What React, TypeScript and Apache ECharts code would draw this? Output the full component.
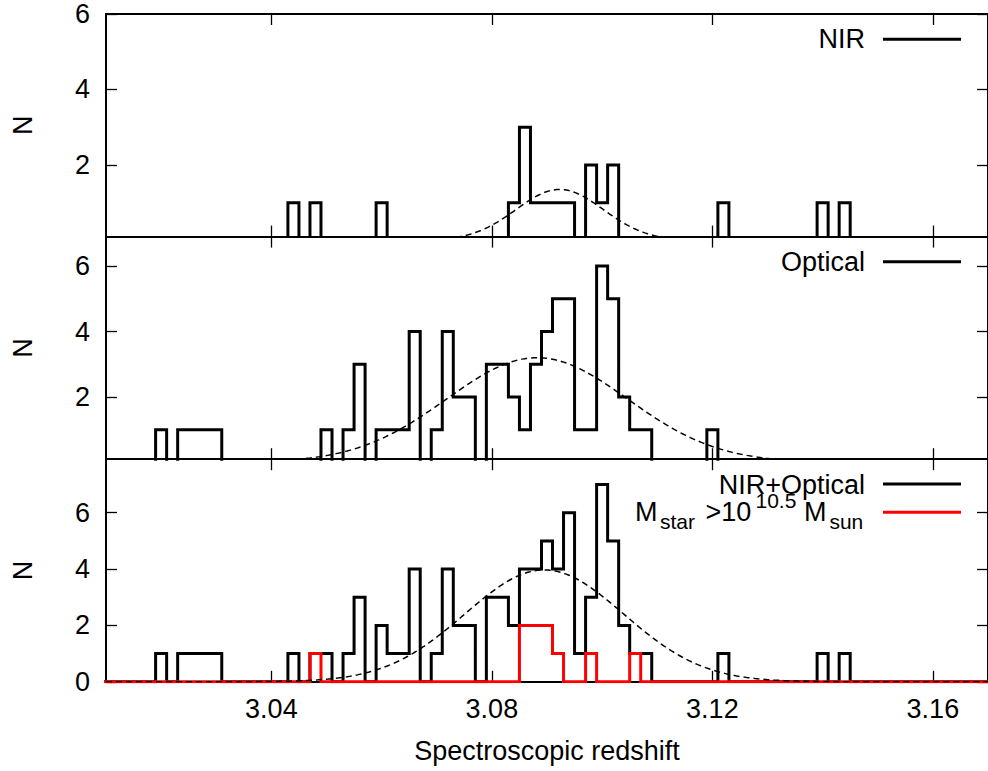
import React, { useEffect, useRef } from "react";
import * as echarts from "echarts";

// Histogram bins are 0.002 wide, centred on even thousandths of redshift.
const Z_MIN = 3.01;
const Z_MAX = 3.17;
const X_TICKS = [3.04, 3.08, 3.12, 3.16];
const Y_TICKS_UPPER = [2, 4, 6];
const Y_TICKS_LOWER = [0, 2, 4, 6];

// NIR sample: bin centre -> count
const NIR_Z = [3.044, 3.048, 3.060, 3.084, 3.086, 3.088, 3.090, 3.092, 3.094, 3.098, 3.100, 3.102, 3.122, 3.140, 3.144];
const NIR_N = [1, 1, 1, 1, 3, 1, 1, 1, 1, 2, 1, 2, 1, 1, 1];

// Optical sample
const OPT_Z = [3.020, 3.024, 3.026, 3.028, 3.030, 3.050, 3.054, 3.056, 3.060, 3.062, 3.064, 3.066, 3.070, 3.072, 3.074, 3.076,
  3.080, 3.082, 3.084, 3.086, 3.088, 3.090, 3.092, 3.094, 3.096, 3.098, 3.100, 3.102, 3.104, 3.106, 3.108, 3.120];
const OPT_N = [1, 1, 1, 1, 1, 1, 1, 3, 1, 1, 1, 4, 1, 4, 2, 2,
  3, 3, 2, 1, 3, 4, 5, 5, 1, 1, 6, 5, 2, 1, 1, 1];

// Combined NIR+Optical sample
const ALL_Z = [3.020, 3.024, 3.026, 3.028, 3.030, 3.044, 3.048, 3.050, 3.054, 3.056, 3.060, 3.062, 3.064, 3.066, 3.070, 3.072,
  3.074, 3.076, 3.080, 3.082, 3.084, 3.086, 3.088, 3.090, 3.092, 3.094, 3.096, 3.098, 3.100, 3.102, 3.104, 3.106, 3.108,
  3.122, 3.140, 3.144];
const ALL_N = [1, 1, 1, 1, 1, 1, 1, 1, 1, 3, 2, 1, 1, 4, 1, 4,
  2, 2, 3, 3, 2, 4, 4, 5, 4, 6, 1, 3, 7, 5, 2, 1, 1,
  1, 1, 1];

// Massive galaxies, M_star > 10^10.5 M_sun
const MASSIVE_Z = [3.048, 3.086, 3.088, 3.090, 3.092, 3.098, 3.106];
const MASSIVE_N = [1, 2, 2, 2, 1, 1, 1];

// Gaussian fits: [amplitude, mean, sigma]
const NIR_FIT = [1.35, 3.0923, 0.0079];
const OPT_FIT = [3.2, 3.0882, 0.0164];
const ALL_FIT = [3.97, 3.0895, 0.0144];

const FONT = '"Liberation Sans", Arial, Helvetica, sans-serif';
const BLACK = "#000000";
const RED = "#ff0000";

function histogramOutline(z: number[], n: number[]): number[][] {
  const counts = new Map<number, number>();
  z.forEach((v, i) => counts.set(Math.round(v * 1000), n[i]));
  const pts: number[][] = [];
  for (let c = 3008; c <= 3172; c += 2) {
    const cnt = counts.get(c) ?? 0;
    pts.push([(c - 1) / 1000, cnt]);
    pts.push([(c + 1) / 1000, cnt]);
  }
  return pts;
}

function gaussianCurve(fit: number[]): number[][] {
  const [amp, mu, sigma] = fit;
  const pts: number[][] = [];
  const steps = 640;
  for (let i = 0; i <= steps; i++) {
    const x = Z_MIN + ((Z_MAX - Z_MIN) * i) / steps;
    pts.push([x, amp * Math.exp(-((x - mu) * (x - mu)) / (2 * sigma * sigma))]);
  }
  return pts;
}

const GRID_TOPS = [14, 236.6, 459.2];
const GRID_HEIGHT = 222.6;
const Y_MIN = [0.1, 0.1, 0];
const Y_MAX = [6, 6.9, 7.9];
const Y_TICKS = [Y_TICKS_UPPER, Y_TICKS_UPPER, Y_TICKS_LOWER];

export default function App() {
  const ref = useRef<HTMLDivElement>(null);

  useEffect(() => {
    if (!ref.current) return;
    const chart = echarts.init(ref.current, null, { renderer: "svg" });

    const frameLine = { show: true, onZero: false, lineStyle: { color: BLACK, width: 2 } };
    const ticks = (values: number[]) => ({
      show: true,
      inside: true,
      length: 11,
      customValues: values,
      lineStyle: { color: BLACK, width: 1.3 },
    });

    const grid = GRID_TOPS.map((top) => ({ left: 106, width: 888, top, height: GRID_HEIGHT }));

    const xAxis: any[] = [];
    const yAxis: any[] = [];
    for (let g = 0; g < 3; g++) {
      const isLast = g === 2;
      xAxis.push({
        type: "value",
        gridIndex: g,
        position: "bottom",
        min: Z_MIN,
        max: Z_MAX,
        axisLine: frameLine,
        axisTick: ticks(X_TICKS),
        splitLine: { show: false },
        axisLabel: isLast
          ? {
              show: true,
              customValues: X_TICKS,
              formatter: (v: number) => v.toFixed(2),
              color: BLACK,
              fontSize: 27,
              fontFamily: FONT,
              margin: 14,
            }
          : { show: false },
        name: isLast ? "Spectroscopic redshift" : "",
        nameLocation: "middle",
        nameGap: 56,
        nameTextStyle: { color: BLACK, fontSize: 27, fontFamily: FONT },
      });
      xAxis.push({
        type: "value",
        gridIndex: g,
        position: "top",
        min: Z_MIN,
        max: Z_MAX,
        axisLine: frameLine,
        axisTick: ticks(X_TICKS),
        splitLine: { show: false },
        axisLabel: { show: false },
      });
      yAxis.push({
        type: "value",
        gridIndex: g,
        position: "left",
        min: Y_MIN[g],
        max: Y_MAX[g],
        axisLine: frameLine,
        axisTick: ticks(Y_TICKS[g]),
        splitLine: { show: false },
        axisLabel: {
          show: true,
          customValues: Y_TICKS[g],
          color: BLACK,
          fontSize: 27,
          fontFamily: FONT,
          margin: 16,
        },
        name: "N",
        nameLocation: "middle",
        nameRotate: 90,
        nameGap: 70,
        nameTextStyle: { color: BLACK, fontSize: 27, fontFamily: FONT },
      });
      yAxis.push({
        type: "value",
        gridIndex: g,
        position: "right",
        min: Y_MIN[g],
        max: Y_MAX[g],
        axisLine: frameLine,
        axisTick: ticks(Y_TICKS[g]),
        splitLine: { show: false },
        axisLabel: { show: false },
      });
    }

    const stepSeries = (name: string, g: number, data: number[][], color: string, z: number) => ({
      name,
      type: "line",
      xAxisIndex: g * 2,
      yAxisIndex: g * 2,
      data,
      showSymbol: false,
      symbol: "none",
      silent: true,
      z,
      lineStyle: { color, width: 3, join: "miter", cap: "butt" },
      itemStyle: { color },
      emphasis: { disabled: true },
    });
    const fitSeries = (name: string, g: number, data: number[][]) => ({
      name,
      type: "line",
      xAxisIndex: g * 2,
      yAxisIndex: g * 2,
      data,
      showSymbol: false,
      symbol: "none",
      silent: true,
      z: 4,
      lineStyle: { color: BLACK, width: 1.5, type: [6, 4] },
      itemStyle: { color: BLACK },
      emphasis: { disabled: true },
    });

    const series = [
      stepSeries("NIR", 0, histogramOutline(NIR_Z, NIR_N), BLACK, 2),
      fitSeries("NIR fit", 0, gaussianCurve(NIR_FIT)),
      stepSeries("Optical", 1, histogramOutline(OPT_Z, OPT_N), BLACK, 2),
      fitSeries("Optical fit", 1, gaussianCurve(OPT_FIT)),
      stepSeries("NIR+Optical", 2, histogramOutline(ALL_Z, ALL_N), BLACK, 2),
      fitSeries("NIR+Optical fit", 2, gaussianCurve(ALL_FIT)),
      stepSeries("Mstar > 10^10.5 Msun", 2, histogramOutline(MASSIVE_Z, MASSIVE_N), RED, 3),
    ];

    const txt = (text: string, x: number, y: number, size: number, align: string) => ({
      type: "text",
      x,
      y,
      z: 10,
      silent: true,
      style: {
        text,
        fill: BLACK,
        fontSize: size,
        fontFamily: FONT,
        font: `${size}px ${FONT}`,
        align,
        textAlign: align,
        verticalAlign: "middle",
        textVerticalAlign: "middle",
      },
    });
    const sample = (y: number, color: string) => ({
      type: "line",
      z: 10,
      silent: true,
      shape: { x1: 883, y1: y, x2: 961, y2: y },
      style: { stroke: color, lineWidth: 3 },
    });

    const graphic = [
      txt("NIR", 865, 39.3, 27, "right"),
      sample(39.3, BLACK),
      txt("Optical", 865, 261.7, 27, "right"),
      sample(261.7, BLACK),
      txt("NIR+Optical", 865, 484.8, 27, "right"),
      sample(484, BLACK),
      // M_star >10^10.5 M_sun, with sub- and superscripts
      txt("M", 635, 512.3, 27, "left"),
      txt("star", 660, 521.7, 21, "left"),
      txt(">10", 705.5, 512.3, 27, "left"),
      txt("10.5", 755.5, 500, 21, "left"),
      txt("M", 804, 512.3, 27, "left"),
      txt("sun", 829.4, 521.7, 21, "left"),
      sample(512.3, RED),
    ];

    chart.setOption({
      animation: false,
      backgroundColor: "#ffffff",
      textStyle: { fontFamily: FONT },
      grid,
      xAxis,
      yAxis,
      series,
      graphic,
    });

    return () => chart.dispose();
  }, []);

  return (
    <div
      ref={ref}
      style={{ position: "absolute", left: 0, top: 0, width: 988, height: 771 }}
    />
  );
}
